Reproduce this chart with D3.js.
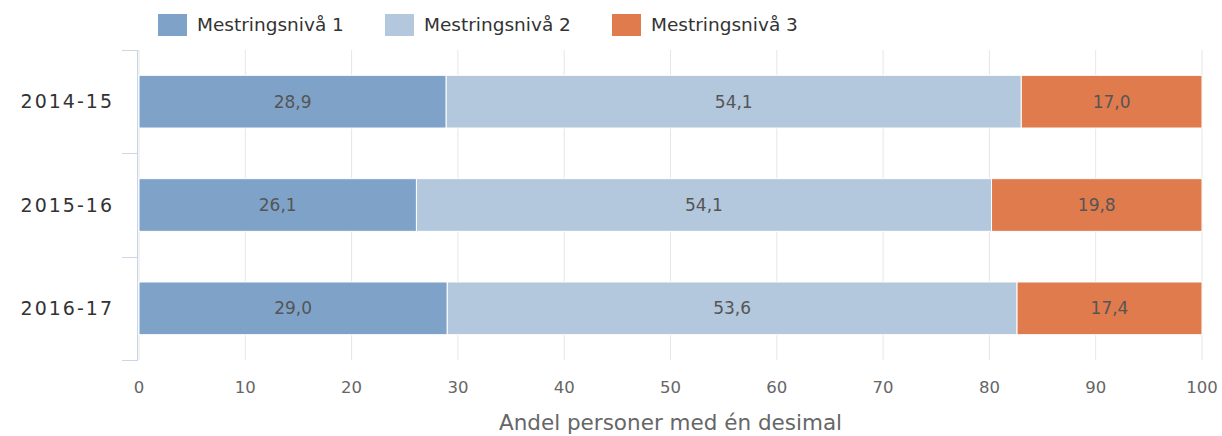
<!DOCTYPE html>
<html>
<head>
<meta charset="utf-8">
<script src="https://cdn.jsdelivr.net/npm/d3@7"></script>
<style>
  body { margin: 0; background: #fff; }
  svg { font-family: "DejaVu Sans", Verdana, sans-serif; }
</style>
</head>
<body>
<div id="chart"></div>
<script>
// Data
const years = ["2014-15", "2015-16", "2016-17"];
const seriesNames = ["Mestringsnivå 1", "Mestringsnivå 2", "Mestringsnivå 3"];
const level1 = [28.9, 26.1, 29.0];
const level2 = [54.1, 54.1, 53.6];
const level3 = [17.0, 19.8, 17.4];
const xTicks = [0, 10, 20, 30, 40, 50, 60, 70, 80, 90, 100];
const colors = ["#7fa3c8", "#b3c8dd", "#e07b4e"];

const width = 1222, height = 436;
const margin = { top: 50, right: 20, bottom: 76, left: 139 };
const plotW = 1202 - margin.left;
const plotH = 360 - margin.top;

const svg = d3.select("#chart")
              .append("svg")
              .attr("width", width)
              .attr("height", height);

const g = svg.append("g")
             .attr("transform", `translate(${margin.left},${margin.top})`);

const x = d3.scaleLinear()
            .domain([0, 100])
            .range([0, plotW]);

const y = d3.scaleBand()
            .domain(years)
            .range([0, plotH])
            .paddingInner(0.49)
            .paddingOuter(0.245);

// grid lines
g.selectAll(".grid")
 .data(xTicks)
 .enter()
 .append("line")
 .attr("x1", d => x(d))
 .attr("x2", d => x(d))
 .attr("y1", 0)
 .attr("y2", plotH)
 .attr("stroke", "#e6e6e6")
 .attr("stroke-width", 1);

// stacked data
const rows = years.map((yr, i) => ({ year: yr, v: [level1[i], level2[i], level3[i]] }));
const segs = [];
rows.forEach(r => {
  let acc = 0;
  r.v.forEach((val, s) => {
    segs.push({ year: r.year, s, x0: acc, x1: acc + val, val });
    acc += val;
  });
});

g.selectAll("rect.bar")
 .data(segs)
 .enter()
 .append("rect")
 .attr("class", "bar")
 .attr("x", d => x(d.x0))
 .attr("y", d => y(d.year))
 .attr("width", d => x(d.x1) - x(d.x0))
 .attr("height", y.bandwidth())
 .attr("fill", d => colors[d.s])
 .attr("stroke", "#fff")
 .attr("stroke-width", 1);

g.selectAll("text.lbl")
 .data(segs)
 .enter()
 .append("text")
 .attr("x", d => (x(d.x0) + x(d.x1)) / 2)
 .attr("y", d => y(d.year) + y.bandwidth() / 2)
 .attr("dy", "0.35em")
 .attr("text-anchor", "middle")
 .attr("fill", "#555")
 .style("font-size", "17px")
 .text(d => d.val.toFixed(1).replace(".", ","));

// y axis
const yAxis = g.append("g");
yAxis.append("line")
     .attr("x1", -1.5).attr("x2", -1.5)
     .attr("y1", 0).attr("y2", plotH)
     .attr("stroke", "#ccd6eb");
const yEdges = [0].concat(years.map(yr => y(yr) + y.bandwidth() + y.step() * y.paddingInner() / 2));
yEdges[yEdges.length - 1] = plotH;
yAxis.selectAll(".ytick")
     .data(yEdges)
     .enter()
     .append("line")
     .attr("x1", -17).attr("x2", -1)
     .attr("y1", d => Math.round(d) + 0.5).attr("y2", d => Math.round(d) + 0.5)
     .attr("stroke", "#ccd6eb");
yAxis.selectAll(".ylbl")
     .data(years)
     .enter()
     .append("text")
     .attr("x", -25)
     .attr("y", d => y(d) + y.bandwidth() / 2)
     .attr("dy", "0.35em")
     .attr("text-anchor", "end")
     .attr("fill", "#333")
     .style("font-size", "19px")
     .style("letter-spacing", "2px")
     .text(d => d);

// x tick labels
g.selectAll(".xlbl")
 .data(xTicks)
 .enter()
 .append("text")
 .attr("x", d => x(d))
 .attr("y", plotH + 33)
 .attr("text-anchor", "middle")
 .attr("fill", "#666")
 .style("font-size", "16.5px")
 .text(d => d);

svg.append("text")
   .attr("x", margin.left + plotW / 2)
   .attr("y", 430)
   .attr("text-anchor", "middle")
   .attr("fill", "#666")
   .style("font-size", "21.5px")
   .text("Andel personer med én desimal");

// legend
const legendX = [158, 385, 612];
const legend = svg.selectAll(".legend")
                  .data(seriesNames)
                  .enter()
                  .append("g")
                  .attr("transform", (d, i) => `translate(${legendX[i]},14)`);
legend.append("rect")
      .attr("width", 29)
      .attr("height", 22)
      .attr("fill", (d, i) => colors[i]);
legend.append("text")
      .attr("x", 39)
      .attr("y", 11)
      .attr("dy", "0.35em")
      .attr("fill", "#333")
      .style("font-size", "18.5px")
      .text(d => d);
</script>
</body>
</html>
